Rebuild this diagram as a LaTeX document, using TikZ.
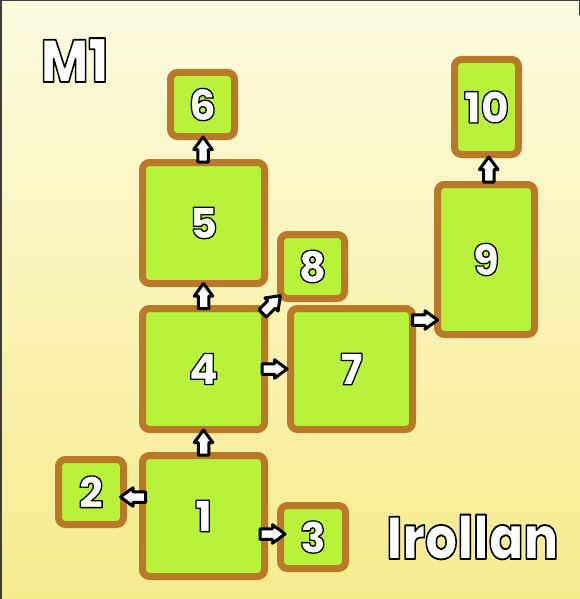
\documentclass[tikz,border=0pt]{standalone}
\usepackage{fontspec}
\setmainfont{Poppins}[BoldFont={Poppins ExtraBold}]
\usetikzlibrary{calc}
\definecolor{boxgreen}{RGB}{185,242,58}
\definecolor{boxbrown}{RGB}{184,122,40}
\definecolor{bgtop}{RGB}{252,251,224}
\definecolor{bgbot}{RGB}{246,235,140}
\definecolor{edgegray}{RGB}{60,60,60}
\newcommand{\lbl}[2][1.3]{\textcolor{white}{\special{pdf:literal direct 0 0 0 RG #1 w 1 j 2 Tr}#2\special{pdf:literal direct 0 Tr}}}
\tikzset{
  box/.style={draw=boxbrown, fill=boxgreen, line width=7pt, rounded corners=7pt,
    inner sep=0pt, font=\fontsize{43}{43}\selectfont\bfseries},
  bigtext/.style={inner sep=0pt, anchor=base, xscale=0.85, font=\fontsize{60}{60}\selectfont\bfseries},
  barrow/.pic={\filldraw[fill=white, draw=black, line width=3pt, line join=round]
    (-12.5,-5.25) -- (0,-5.25) -- (0,-9.25) -- (12.5,0) -- (0,9.25) -- (0,5.25) -- (-12.5,5.25) -- cycle;}
}
\begin{document}
\begin{tikzpicture}[x=1pt,y=-1pt]
\useasboundingbox (0,0) rectangle (580,599);
\shade[top color=bgtop, bottom color=bgbot] (0,0) rectangle (580,599);
\draw[edgegray, line width=1.5pt] (0.75,599) -- (0.75,0.75) -- (579.25,0.75) -- (579.25,15);

\node[box, minimum width=122pt, minimum height=121pt] (n1) at (203.5,516) {\lbl{1}};
\node[box, minimum width=65pt, minimum height=65pt] (n2) at (91,492) {\lbl{2}};
\node[box, minimum width=65pt, minimum height=63pt] (n3) at (313,537) {\lbl{3}};
\node[box, minimum width=122pt, minimum height=121pt] (n4) at (203.5,369) {\lbl{4}};
\node[box, minimum width=122pt, minimum height=121pt] (n5) at (203.5,223) {\lbl{5}};
\node[box, minimum width=64pt, minimum height=64pt] (n6) at (202.5,104.5) {\lbl{6}};
\node[box, minimum width=122pt, minimum height=121pt] (n7) at (351.5,369) {\lbl{7}};
\node[box, minimum width=64pt, minimum height=64pt] (n8) at (312.5,266.5) {\lbl{8}};
\node[box, minimum width=97pt, minimum height=150pt] (n9) at (486,259.5) {\lbl{9}};
\node[box, minimum width=64pt, minimum height=95pt] (n10) at (486.5,107) {\lbl{10}};

\path (n5.north) -- (n6.south) coordinate[pos=.5] (a56);
\path (n4.north) -- (n5.south) coordinate[pos=.5] (a45);
\path (n1.north) -- (n4.south) coordinate[pos=.5] (a14);
\path ($(n2.east)+(0,5)$) -- ($(n1.west |- n2.east)+(0,5)$) coordinate[pos=.5] (a12);
\path ($(n1.east |- n3.west)+(0,-3)$) -- ($(n3.west)+(0,-3)$) coordinate[pos=.5] (a13);
\path (n4.east) -- (n7.west) coordinate[pos=.5] (a47);
\path ($(n7.east |- n9.west)+(0,60.5)$) -- ($(n9.west)+(0,60.5)$) coordinate[pos=.5] (a79);
\path (n9.north) -- (n10.south) coordinate[pos=.5] (a910);
\path (n4.north east) -- (n8.south west) coordinate[pos=.5] (a48);

\pic[rotate=90] at (a56) {barrow};
\pic[rotate=90] at (a45) {barrow};
\pic[rotate=90] at (a14) {barrow};
\pic[rotate=180] at (a12) {barrow};
\pic at (a13) {barrow};
\pic at ($(a47)+(-3,0)$) {barrow};
\pic at (a79) {barrow};
\pic[rotate=90] at ($(a910)+(2.5,0)$) {barrow};
\pic[rotate=45] at ($(a48)+(-1,1)$) {barrow};

\node[bigtext] (m1) at (74.5,82) {\lbl[1.8]{M1}};
\node[bigtext] (irollan) at (472.5,559) {\lbl[1.8]{Irollan}};
\end{tikzpicture}
\end{document}
